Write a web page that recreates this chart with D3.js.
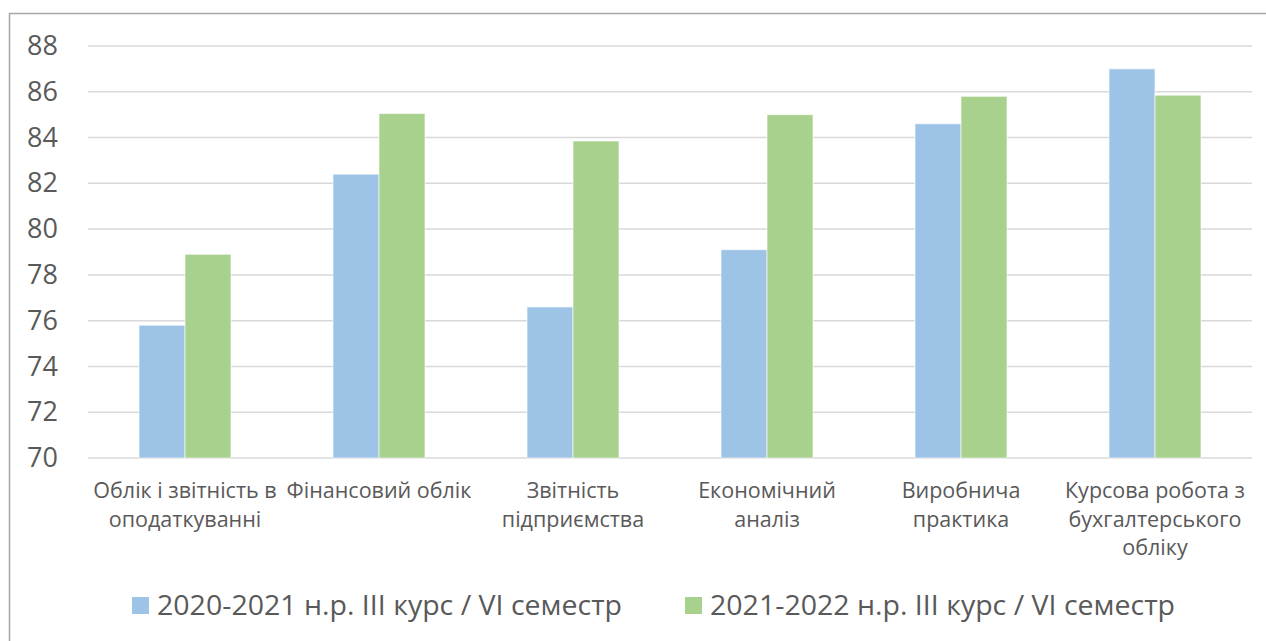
<!DOCTYPE html>
<html>
<head>
<meta charset="utf-8">
<style>
  body { margin: 0; background: #fff; }
  svg text { font-family: "Open Sans", "Noto Sans", sans-serif; fill: #595959; }
</style>
</head>
<body>
<div id="chart"></div>
<script src="https://cdn.jsdelivr.net/npm/d3@7"></script>
<script>
// data
var categories = ["c1", "c2", "c3", "c4", "c5", "c6"];
var categoryLabels = [
  ["Облік і звітність в", "оподаткуванні"],
  ["Фінансовий облік"],
  ["Звітність", "підприємства"],
  ["Економічний", "аналіз"],
  ["Виробнича", "практика"],
  ["Курсова робота з", "бухгалтерського", "обліку"]
];
var seriesNames = ["2020-2021 н.р. III курс / VI семестр", "2021-2022 н.р. III курс / VI семестр"];
var values2021 = [75.8, 82.4, 76.6, 79.1, 84.6, 87.0];
var values2022 = [78.9, 85.05, 83.85, 85.0, 85.8, 85.85];
var yTicks = [70, 72, 74, 76, 78, 80, 82, 84, 86, 88];
var colors = ["#9dc3e6", "#a9d18e"];

var W = 1266, H = 641;
var plot = {left: 88, right: 1252, top: 46, bottom: 458};

var svg = d3.select("#chart").append("svg")
  .attr("width", W).attr("height", H);

// chart border (only left and top visible in the picture)
svg.append("rect")
  .attr("x", 9.5).attr("y", 13.5)
  .attr("width", W + 40).attr("height", H + 40)
  .attr("fill", "none")
  .attr("stroke", "#a6a6a6")
  .attr("stroke-width", 1.5);

var x0 = d3.scaleBand().domain(categories).range([plot.left, plot.right]);
var bw = x0.bandwidth();
var x1 = d3.scaleBand().domain([0, 1]).range([bw * 0.263, bw * 0.737]);
var y = d3.scaleLinear().domain([70, 88]).range([plot.bottom, plot.top]);

// gridlines
svg.append("g")
  .selectAll("line")
  .data(yTicks)
  .enter().append("line")
    .attr("x1", plot.left).attr("x2", plot.right)
    .attr("y1", function(d) { return y(d); })
    .attr("y2", function(d) { return y(d); })
    .attr("stroke", "#d9d9d9")
    .attr("stroke-width", 1.5);

// y axis labels
var yAxis = svg.append("g")
  .attr("transform", "translate(58,0)")
  .call(d3.axisLeft(y).tickValues(yTicks).tickSize(0).tickPadding(0));
yAxis.select(".domain").remove();
yAxis.selectAll("text")
  .attr("font-size", "27px")
  .attr("fill", "#595959")
  .style("font-family", '"Open Sans", sans-serif');

// bars
var rows = categories.map(function(c, i) {
  return {cat: c, vals: [values2021[i], values2022[i]]};
});
var groups = svg.append("g")
  .selectAll("g")
  .data(rows)
  .enter().append("g")
    .attr("transform", function(d) { return "translate(" + x0(d.cat) + ",0)"; });
groups.selectAll("rect")
  .data(function(d) { return d.vals.map(function(v, k) { return {k: k, v: v}; }); })
  .enter().append("rect")
    .attr("x", function(d) { return x1(d.k); })
    .attr("width", x1.bandwidth())
    .attr("y", function(d) { return y(d.v); })
    .attr("height", function(d) { return y(70) - y(d.v); })
    .attr("fill", function(d) { return colors[d.k]; })
    .attr("stroke", "#ffffff")
    .attr("stroke-opacity", 0.6)
    .attr("stroke-width", 1);

// category labels
var lab = svg.append("g")
  .selectAll("text")
  .data(categories)
  .enter().append("text")
    .attr("text-anchor", "middle")
    .attr("font-size", "21.5px")
    .attr("x", function(d) { return x0(d) + bw / 2; })
    .attr("y", 498);
lab.selectAll("tspan")
  .data(function(d, i) { return categoryLabels[i]; })
  .enter().append("tspan")
    .attr("x", function() { return d3.select(this.parentNode).attr("x"); })
    .attr("dy", function(d, i) { return i === 0 ? 0 : 28.5; })
    .text(function(d) { return d; });

// legend
var legendX = [132, 685];
var leg = svg.append("g")
  .selectAll("g")
  .data(seriesNames)
  .enter().append("g")
    .attr("transform", function(d, i) { return "translate(" + legendX[i] + ",597)"; });
leg.append("rect")
  .attr("width", 17).attr("height", 17)
  .attr("fill", function(d, i) { return colors[i]; });
leg.append("text")
  .attr("x", 25).attr("y", 18)
  .attr("font-size", "27px")
  .attr("textLength", 465)
  .attr("lengthAdjust", "spacingAndGlyphs")
  .text(function(d) { return d; });
</script>
</body>
</html>
